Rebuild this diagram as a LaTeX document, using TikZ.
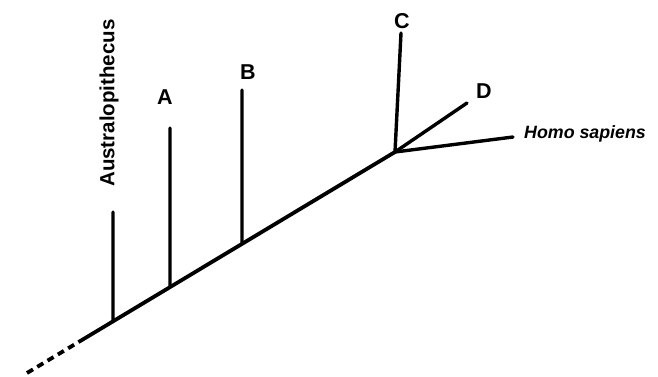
\documentclass[tikz,border=0pt]{standalone}
\usepackage{fontspec}
\setmainfont{Liberation Sans}
\usetikzlibrary{calc}
\begin{document}
\begin{tikzpicture}[x=1pt,y=-1pt,
  stem/.style={line width=3.4pt,line cap=round,black},
  trunk/.style={line width=3.8pt,line cap=round,black},
  lbl/.style={font=\fontsize{21.5}{24}\selectfont\bfseries,inner sep=0pt},
  species/.style={font=\fontsize{20.5}{24}\selectfont\bfseries,inner sep=0pt},
  homo/.style={font=\fontsize{17.8}{22}\selectfont\bfseries\itshape,inner sep=0pt}]
\useasboundingbox (0,0) rectangle (658,376);
% trunk
\coordinate (s) at (27,373);
\coordinate (j) at (395,152);
\coordinate (dend) at ($(s)!0.144!(j)$);
\coordinate (aus) at ($(s)!0.2337!(j)$);
\coordinate (a) at ($(s)!0.3886!(j)$);
\coordinate (b) at ($(s)!0.5842!(j)$);
\coordinate (aust) at (113,212);
\coordinate (at) at (170,128);
\coordinate (bt) at (242,90);
\coordinate (ct) at (401,33);
\coordinate (dt) at (467,103);
\coordinate (ht) at (513,137);
\draw[trunk,dash pattern=on 7pt off 5pt,line cap=butt] (s) -- (dend);
\draw[trunk] (dend) -- (j);
\draw[stem] (aus) -- (aust);
\draw[stem] (a) -- (at);
\draw[stem] (b) -- (bt);
\draw[stem] (j) -- (ct);
\draw[stem] (j) -- (dt);
\draw[stem] (j) -- (ht);
% labels
\node[species,rotate=90] (laus) at (109,103) {Australopithecus};
\node[lbl] (la) at (165,97) {A};
\node[lbl] (lb) at (248,72) {B};
\node[lbl] (lc) at (402,21) {C};
\node[lbl] (ld) at (484,91) {D};
\node[homo,anchor=west] (lh) at (524,134) {Homo sapiens};
\end{tikzpicture}
\end{document}
